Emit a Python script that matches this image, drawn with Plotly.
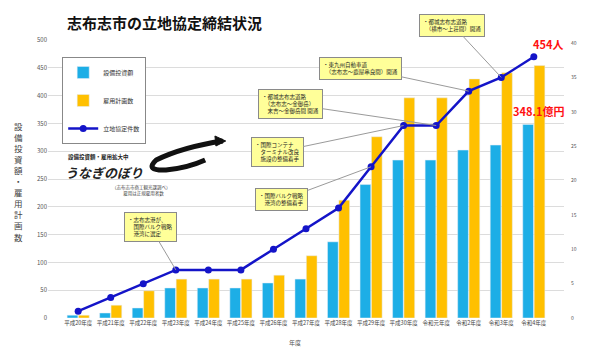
import plotly.graph_objects as go

# ---- data ----
years = ["平成20年度", "平成21年度", "平成22年度", "平成23年度", "平成24年度",
         "平成25年度", "平成26年度", "平成27年度", "平成28年度", "平成29年度",
         "平成30年度", "令和元年度", "令和2年度", "令和3年度", "令和4年度"]
investment = [5, 9, 18, 54, 54, 54, 63, 70, 137, 240, 284, 284, 302, 311, 348.1]   # 設備投資額(億円)
employment = [5, 23, 49, 70, 70, 70, 77, 112, 212, 326, 396, 396, 430, 441, 454]   # 雇用計画数(人)
agreements = [1, 3, 5, 7, 7, 7, 10, 13, 16, 22, 28, 28, 33, 35, 38]               # 立地協定件数(件)
left_ticks = list(range(0, 501, 50))
right_ticks = list(range(0, 41, 5))

# ---- layout helpers (pixel -> paper) ----
W, H = 589, 352
PL, PR, PT, PB = 47.5, 574.5, 40, 318
def px(x):
    return (x - PL) / (PR - PL)
def py(y):
    return (PB - y) / (PB - PT)

FONT = "Noto Sans CJK JP"
BLUE = "#1DAEE6"
ORANGE = "#FFC000"
LINE = "#1414C8"

fig = go.Figure()
fig.add_trace(go.Bar(x=years, y=investment, name="設備投資額", marker_color=BLUE,
                     legendgroup="a"))
fig.add_trace(go.Bar(x=years, y=employment, name="雇用計画数", marker_color=ORANGE,
                     legendgroup="b"))
fig.add_trace(go.Scatter(x=years, y=agreements, name="立地協定件数", yaxis="y2",
                         mode="lines+markers", line=dict(color=LINE, width=2.5),
                         marker=dict(color=LINE, size=7), legendgroup="c"))

ann = []
# title
ann.append(dict(text="<b>志布志市の立地協定締結状況</b>", xref="paper", yref="paper",
                x=px(65), y=py(23), xanchor="left", yanchor="middle", showarrow=False,
                font=dict(size=15, color="#111", family=FONT)))
# vertical left axis title
ann.append(dict(text="<br>".join(list("設備投資額・雇用計画数")), xref="paper", yref="paper",
                x=px(17), y=py(181), xanchor="center", yanchor="middle", showarrow=False,
                font=dict(size=8.5, color="#444", family=FONT)))
# x title
ann.append(dict(text="年度", xref="paper", yref="paper", x=px(300), y=py(342),
                xanchor="center", yanchor="middle", showarrow=False,
                font=dict(size=6, color="#555", family=FONT)))
# red value labels
ann.append(dict(text="<b>454人</b>", xref="paper", yref="paper", x=px(558), y=py(44),
                xanchor="center", yanchor="middle", showarrow=False,
                font=dict(size=11, color="#FF1010", family=FONT)))
ann.append(dict(text="<b>348.1億円</b>", xref="paper", yref="paper", x=px(549), y=py(111),
                xanchor="center", yanchor="middle", showarrow=False,
                font=dict(size=11, color="#FF1010", family=FONT)))
# logo texts
ann.append(dict(text="<b>設備投資額・雇用拡大中</b>", xref="paper", yref="paper", x=px(99), y=py(157),
                xanchor="center", yanchor="middle", showarrow=False,
                font=dict(size=5.5, color="#222", family=FONT)))
ann.append(dict(text="<b><i>うなぎのぼり</i></b>", xref="paper", yref="paper", x=px(105), y=py(172),
                xanchor="center", yanchor="middle", showarrow=False,
                font=dict(size=13, color="#222", family=FONT)))
ann.append(dict(text="（志布志市商工観光課調べ）<br>　雇用は正規雇用者数", xref="paper", yref="paper",
                x=px(143), y=py(190), xanchor="center", yanchor="middle", showarrow=False,
                font=dict(size=4.5, color="#444", family=FONT)))

# callout boxes
callouts = [
    ("・志布志港が、<br>　国際バルク戦略<br>　港湾に選定", 3, 145, 227),
    ("・国際バルク戦略<br>　港湾の整備着手", 9, 292, 200),
    ("・国際コンテナ<br>　ターミナル改良<br>　施設の整備着手", 10, 290, 152),
    ("・都城志布志道路<br>　（志布志～金御岳）<br>　末吉～金御岳間 開通", 11, 306, 104),
    ("・東九州自動車道<br>　（志布志～鹿屋串良間）開通", 12, 378, 68),
    ("・都城志布志道路<br>　（横市～上荘間）開通", 13, 473, 25),
]
for text, idx, cx, cy in callouts:
    pxx = PL + (idx + 0.5) * (PR - PL) / len(years)
    pyy = PB - agreements[idx] / 40.44 * (PB - PT)
    ann.append(dict(text=text, x=years[idx], y=agreements[idx], xref="x", yref="y2",
                    showarrow=True, arrowhead=0, arrowwidth=1, arrowcolor="#9a9a9a",
                    ax=cx - pxx, ay=cy - pyy, axref="pixel", ayref="pixel",
                    align="left", bgcolor="#FFFF99", bordercolor="#8a8a8a", borderwidth=1,
                    borderpad=3, font=dict(size=5.5, color="#222", family=FONT)))

# swoosh (brush stroke, hairpin shape)
pts = [(226, 141), (185, 147), (158, 160), (146, 171), (168, 170), (190, 168), (208, 160)]
P = [(px(x), py(y)) for x, y in pts]
path = (f"M {P[0][0]},{P[0][1]} Q {P[1][0]},{P[1][1]} {P[2][0]},{P[2][1]} "
        f"Q {P[3][0]},{P[3][1]} {P[4][0]},{P[4][1]} Q {P[5][0]},{P[5][1]} {P[6][0]},{P[6][1]}")
shapes = [dict(type="path", xref="paper", yref="paper", path=path,
               line=dict(color="#111", width=5))]
tip = [(px(218), py(136)), (px(229), py(141)), (px(219), py(146))]
shapes.append(dict(type="path", xref="paper", yref="paper",
                   path=f"M {tip[0][0]},{tip[0][1]} L {tip[1][0]},{tip[1][1]} L {tip[2][0]},{tip[2][1]} Z",
                   fillcolor="#111", line=dict(color="#111", width=1)))

fig.update_layout(
    width=W, height=H,
    margin=dict(l=PL, r=W - PR, t=PT, b=H - PB),
    paper_bgcolor="white", plot_bgcolor="white",
    barmode="group", bargap=0.3, bargroupgap=0.06,
    font=dict(family=FONT, size=6, color="#555"),
    xaxis=dict(tickfont=dict(size=5.5, color="#444"), showgrid=False, showline=False,
               ticks="", ticklen=0),
    yaxis=dict(range=[0, 500], tickvals=left_ticks, showgrid=True, gridcolor="#dcdcdc",
               gridwidth=1, zeroline=False, tickfont=dict(size=6, color="#555"), ticks=""),
    yaxis2=dict(range=[0, 40.44], tickvals=right_ticks, overlaying="y", side="right",
                showgrid=False, zeroline=False, tickfont=dict(size=5, color="#555"),
                ticklabelstandoff=6),
    legend=dict(x=px(62), y=py(57), xanchor="left", yanchor="top",
                bordercolor="#888", borderwidth=1, bgcolor="white",
                font=dict(size=6, color="#333", family=FONT), tracegroupgap=9,
                itemwidth=30),
    annotations=ann, shapes=shapes,
)

fig.write_html("out.html")
